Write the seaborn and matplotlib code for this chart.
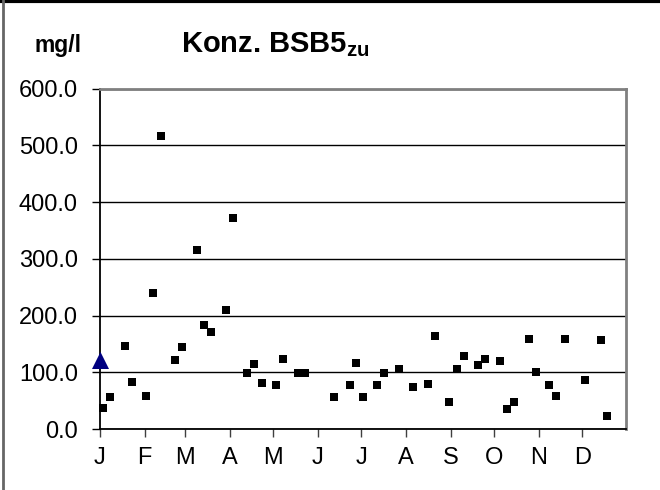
#!/usr/bin/env python3
# Konz. BSB5 zu - Einzelwerte über das Jahr
import matplotlib

matplotlib.use("Agg")
import matplotlib.pyplot as plt  # noqa: E402
import matplotlib.dates as mdates  # noqa: E402
from matplotlib.lines import Line2D  # noqa: E402
from matplotlib.ticker import FuncFormatter, MultipleLocator  # noqa: E402
import pandas as pd  # noqa: E402
import seaborn as sns  # noqa: E402

# Messwerte (Datum, mg/l)
sample_dates = [
    "2005-01-03", "2005-01-08", "2005-01-18", "2005-01-23", "2005-02-02",
    "2005-02-07", "2005-02-12", "2005-02-22", "2005-02-27", "2005-03-09",
    "2005-03-14", "2005-03-19", "2005-03-29", "2005-04-03", "2005-04-13",
    "2005-04-18", "2005-04-23", "2005-05-03", "2005-05-08", "2005-05-18",
    "2005-05-23", "2005-06-12", "2005-06-23", "2005-06-27", "2005-07-02",
    "2005-07-12", "2005-07-17", "2005-07-27", "2005-08-06", "2005-08-16",
    "2005-08-21", "2005-08-31", "2005-09-05", "2005-09-10", "2005-09-20",
    "2005-09-25", "2005-10-05", "2005-10-10", "2005-10-15", "2005-10-25",
    "2005-10-30", "2005-11-08", "2005-11-13", "2005-11-19", "2005-12-03",
    "2005-12-14", "2005-12-18",
]
bsb5_zu = [
    37, 56, 146, 83, 58,
    239, 516, 122, 144, 316,
    184, 171, 210, 371, 99,
    114, 81, 77, 123, 99,
    99, 57, 78, 117, 57,
    78, 99, 106, 74, 79,
    163, 47, 105, 128, 112,
    123, 119, 35, 47, 159,
    101, 78, 58, 159, 86,
    156, 23,
]

# Mittelwert / Referenz am Jahresanfang
ref_dates = ["2005-01-01"]
ref_values = [122]

month_letters = ["J", "F", "M", "A", "M", "J", "J", "A", "S", "O", "N", "D"]
year_start = "2005-01-01"
year_end = "2005-12-31"

sns.set_theme(style="white")
plt.rcParams["font.family"] = ["Liberation Sans", "DejaVu Sans"]
plt.rcParams["mathtext.fontset"] = "custom"
plt.rcParams["mathtext.rm"] = "Liberation Sans"
plt.rcParams["mathtext.bf"] = "Liberation Sans:bold"
plt.rcParams["text.color"] = "black"

df = pd.DataFrame({"datum": pd.to_datetime(sample_dates), "bsb5": bsb5_zu})
ref = pd.DataFrame({"datum": pd.to_datetime(ref_dates), "bsb5": ref_values})

fig = plt.figure(figsize=(6.6, 4.9), dpi=100)
ax = fig.add_axes([100 / 660, 61 / 490, 525.5 / 660, 340.5 / 490])

sns.scatterplot(data=df, x="datum", y="bsb5", marker="s", s=30, color="black",
                linewidth=0, ax=ax, zorder=3, clip_on=False, legend=False)
sns.scatterplot(data=ref, x="datum", y="bsb5", marker="^", s=150, color="#000080",
                linewidth=0, ax=ax, zorder=4, clip_on=False, legend=False)

ax.set_xlim(pd.Timestamp(year_start), pd.Timestamp(year_end))
ax.set_ylim(0, 600)
ax.yaxis.set_major_locator(MultipleLocator(100))
ax.yaxis.set_major_formatter(FuncFormatter(lambda v, p: f"{v:.1f}"))
ax.xaxis.set_major_locator(mdates.MonthLocator())
ax.xaxis.set_major_formatter(
    FuncFormatter(lambda v, p: month_letters[mdates.num2date(v).month - 1]))

ax.set_xlabel("")
ax.set_ylabel("")
ax.grid(axis="y", color="black", linewidth=1.0)
ax.grid(axis="x", visible=False)

for side in ["top", "right"]:
    ax.spines[side].set_color("#808080")
    ax.spines[side].set_linewidth(2.0)
for side in ["left", "bottom"]:
    ax.spines[side].set_color("black")
    ax.spines[side].set_linewidth(1.3)

ax.tick_params(axis="y", which="major", left=True, direction="out", length=6,
               width=1, color="black", labelsize=17, pad=10, labelcolor="black")
ax.tick_params(axis="x", which="major", bottom=True, direction="out", length=6,
               width=1, color="#404040", labelsize=17, pad=7, labelcolor="black")

fig.text(35 / 660, 1 - 52 / 490, "mg/l", fontsize=16.5, fontweight="bold",
         color="black", ha="left", va="baseline")
fig.text(181 / 660, 1 - 52 / 490, r"Konz. BSB5$_\mathbf{zu}$", fontsize=21,
         fontweight="bold", color="black", ha="left", va="baseline")

# Rahmen um die Grafik
fig.add_artist(Line2D([0, 1], [0.998, 0.998], transform=fig.transFigure,
                      color="black", linewidth=3))
fig.add_artist(Line2D([0.004, 0.004], [0, 1], transform=fig.transFigure,
                      color="#666666", linewidth=2))

fig.savefig("out.png", dpi=100)
plt.close(fig)
